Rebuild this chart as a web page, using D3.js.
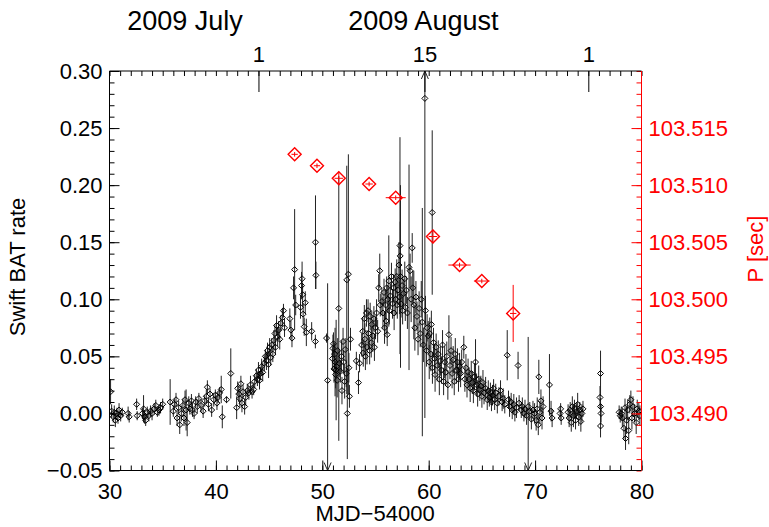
<!DOCTYPE html>
<html><head><meta charset="utf-8">
<script src="https://cdn.jsdelivr.net/npm/d3@7"></script>
<style>
html,body{margin:0;padding:0;background:#fff;}
svg{display:block;font-family:"Liberation Sans",Arial,Helvetica,sans-serif;}
</style></head><body>
<svg id="chart" width="769" height="527"></svg>
<script>
// Swift BAT light curve: [MJD-54000, count rate, 1-sigma error]
const batPoints = [
  [30.1,0.019,0.011],[30.2,0.002,0.006],[30.35,-0.003,0.005],[30.45,0.001,0.006],[30.55,-0.006,0.006],
  [30.7,0.0,0.005],[30.8,-0.004,0.005],[30.9,0.003,0.006],[31.05,-0.002,0.005],[31.2,0.001,0.004],
  [31.75,0.0,0.006],[31.85,-0.003,0.005],[32.55,0.008,0.005],[32.6,-0.002,0.004],
  [33.1,0.0,0.005],[33.2,0.004,0.012],[33.3,-0.003,0.006],[33.4,-0.006,0.005],[33.55,0.001,0.005],
  [33.7,-0.002,0.005],[33.85,0.002,0.005],[34.0,0.0,0.006],[34.2,0.004,0.005],[34.35,0.007,0.005],
  [34.5,0.001,0.004],[34.65,0.003,0.005],[34.8,0.005,0.005],[35.0,0.008,0.005],[35.7,0.01,0.02],
  [36.0,0.002,0.005],[36.1,0.008,0.005],[36.25,0.012,0.006],[36.35,-0.004,0.007],[36.5,0.005,0.006],
  [36.6,-0.01,0.008],[36.75,0.0,0.007],[36.9,0.007,0.006],[37.0,-0.004,0.007],[37.1,0.012,0.008],
  [37.2,0.003,0.018],[37.3,-0.008,0.012],[37.45,0.009,0.006],[37.55,0.004,0.005],[37.7,0.011,0.006],
  [37.8,0.003,0.006],[37.95,0.0,0.005],[38.1,0.01,0.005],[38.25,0.006,0.006],[38.4,0.013,0.005],
  [38.6,0.007,0.006],[38.8,0.002,0.006],[38.95,0.011,0.005],[39.1,0.015,0.006],[39.2,0.023,0.006],
  [39.3,0.008,0.006],[39.45,0.017,0.005],[39.6,0.003,0.006],[39.8,0.012,0.006],[39.95,0.016,0.005],
  [40.1,0.009,0.006],[40.2,0.014,0.005],[40.35,0.018,0.005],[40.5,0.021,0.012],[40.6,-0.003,0.01],
  [41.0,0.012,0.003],[41.4,0.035,0.022],
  [41.95,0.005,0.01],[42.05,0.022,0.006],[42.15,0.017,0.007],[42.25,0.013,0.008],[42.35,0.026,0.007],
  [42.45,0.009,0.008],[42.55,0.019,0.006],[42.7,0.006,0.007],[42.8,0.014,0.007],[42.95,0.02,0.006],
  [43.1,0.018,0.006],[43.25,0.025,0.008],[43.4,0.019,0.006],[43.55,0.021,0.005],[43.65,0.028,0.006],
  [43.8,0.033,0.006],[43.9,0.03,0.006],[44.0,0.038,0.007],[44.1,0.029,0.008],[44.2,0.035,0.006],
  [44.3,0.041,0.007],[44.4,0.036,0.008],[44.55,0.044,0.007],[44.65,0.05,0.006],[44.75,0.046,0.008],
  [44.85,0.055,0.007],[44.95,0.043,0.012],[45.05,0.058,0.008],[45.15,0.049,0.007],[45.25,0.06,0.006],
  [45.35,0.052,0.007],[45.45,0.064,0.009],[45.55,0.07,0.008],[45.6,0.058,0.007],[45.7,0.077,0.009],
  [45.8,0.067,0.008],[45.9,0.073,0.008],[46.0,0.065,0.009],[46.1,0.079,0.007],[46.25,0.084,0.008],
  [46.35,0.09,0.006],[46.45,0.075,0.008],[46.95,0.083,0.009],[47.05,0.073,0.008],[47.15,0.066,0.008],
  [47.3,0.11,0.01],[47.4,0.126,0.053],[47.5,0.095,0.009],[47.95,0.093,0.01],[48.05,0.112,0.012],
  [48.1,0.118,0.015],[48.15,0.104,0.01],[48.2,0.087,0.009],[48.3,0.076,0.008],[48.4,0.097,0.01],
  [48.5,0.071,0.012],[49.0,0.072,0.008],[49.36,0.15,0.041],[49.4,0.121,0.012],[49.35,0.063,0.006],
  [50.4,0.066,0.004],[50.5,0.029,0.085],
  [50.95,0.048,0.01],[51.0,0.057,0.012],[51.05,0.061,0.01],[51.1,0.039,0.012],[51.15,0.052,0.01],
  [51.2,0.045,0.03],[51.25,0.034,0.012],[51.3,0.038,0.044],[51.35,0.041,0.01],[51.4,0.029,0.015],
  [51.45,0.055,0.011],[51.55,0.092,0.116],[51.6,0.044,0.012],[51.7,0.037,0.01],[51.8,0.05,0.014],
  [51.85,0.02,0.012],[51.95,0.063,0.012],[52.0,0.045,0.01],[52.1,0.028,0.015],[52.15,0.056,0.01],
  [52.25,0.035,0.012],[52.3,0.117,0.1],[52.35,0.0,0.04],[52.45,0.122,0.105],[52.5,0.04,0.013],
  [52.55,0.015,0.01],[52.65,0.065,0.01],[53.2,0.046,0.008],[53.4,0.027,0.01],[53.5,0.044,0.008],
  [53.7,0.06,0.01],[53.8,0.072,0.012],[53.85,0.053,0.012],[53.95,0.083,0.012],[54.0,0.065,0.014],
  [54.05,0.05,0.012],[54.15,0.088,0.012],[54.2,0.058,0.015],[54.3,0.09,0.01],[54.35,0.07,0.014],
  [54.45,0.055,0.012],[54.5,0.085,0.012],[54.6,0.062,0.013],[54.65,0.078,0.012],[54.75,0.068,0.014],
  [54.85,0.083,0.011],[54.9,0.058,0.012],[55.0,0.075,0.01],[55.1,0.088,0.012],[55.2,0.072,0.01],
  [55.3,0.11,0.012],[55.4,0.125,0.015],[55.45,0.095,0.01],
  [55.6,0.098,0.012],[55.7,0.088,0.014],[55.8,0.106,0.012],[55.85,0.075,0.014],[55.95,0.095,0.013],
  [56.0,0.081,0.012],[56.05,0.11,0.01],[56.1,0.069,0.01],[56.15,0.1,0.012],[56.25,0.116,0.04],
  [56.3,0.09,0.012],[56.4,0.103,0.011],[56.5,0.12,0.012],[56.6,0.096,0.013],[56.7,0.11,0.012],
  [56.75,0.088,0.015],[56.85,0.115,0.012],[56.9,0.1,0.014],[57.0,0.12,0.015],[57.05,0.095,0.012],
  [57.1,0.108,0.012],[57.2,0.13,0.02],[57.25,0.102,0.015],[57.3,0.147,0.095],[57.32,0.138,0.03],
  [57.35,0.12,0.08],[57.4,0.096,0.012],[57.5,0.112,0.014],[57.55,0.09,0.012],[57.65,0.105,0.013],
  [57.75,0.118,0.015],[57.8,0.093,0.012],[57.9,0.108,0.012],[58.0,0.088,0.014],
  [58.15,0.128,0.09],[58.25,0.125,0.015],[58.35,0.1,0.02],[58.45,0.145,0.013],[58.5,0.11,0.015],
  [58.6,0.095,0.03],[58.7,0.075,0.02],[58.8,0.102,0.014],[58.9,0.085,0.013],[59.0,0.065,0.014],
  [59.1,0.092,0.015],[59.2,0.07,0.012],[59.3,0.1,0.016],[59.4,0.08,0.1],[59.5,0.06,0.015],
  [59.64,0.276,0.28],[59.7,0.09,0.013],[59.8,0.055,0.014],[59.85,0.075,0.012],[60.33,0.176,0.072],
  [59.95,0.068,0.013],[60.05,0.045,0.015],[60.1,0.07,0.014],[60.2,0.052,0.015],[60.25,0.078,0.012],
  [60.35,0.04,0.014],[60.45,0.062,0.013],[60.55,0.048,0.013],[60.6,0.034,0.015],[60.7,0.058,0.012],
  [60.8,0.042,0.014],[60.9,0.052,0.012],[61.0,0.03,0.014],[61.1,0.046,0.013],[61.2,0.038,0.012],
  [61.3,0.06,0.013],[61.4,0.028,0.012],[61.5,0.045,0.014],[61.6,0.036,0.012],[61.7,0.05,0.013],
  [61.8,0.025,0.013],[61.9,0.069,0.017],[62.0,0.042,0.012],
  [62.1,0.055,0.012],[62.2,0.035,0.013],[62.3,0.047,0.012],[62.4,0.028,0.012],[62.5,0.052,0.014],
  [62.6,0.038,0.012],[62.7,0.045,0.012],[62.8,0.03,0.011],[62.9,0.041,0.012],[63.0,0.035,0.012],
  [63.1,0.045,0.011],[63.3,0.058,0.01],[63.4,0.03,0.011],[63.5,0.04,0.012],[63.6,0.025,0.011],
  [63.7,0.036,0.012],[63.8,0.03,0.01],[63.9,0.022,0.012],[64.0,0.035,0.011],[64.1,0.027,0.01],
  [64.2,0.02,0.011],[64.3,0.032,0.012],[64.4,0.045,0.02],[64.5,0.025,0.01],[64.6,0.017,0.011],
  [64.7,0.03,0.012],[64.8,0.021,0.01],[64.9,0.024,0.009],[65.0,0.015,0.01],[65.1,0.027,0.011],
  [65.2,0.018,0.01],[65.35,0.022,0.01],[65.5,0.012,0.009],[65.6,0.02,0.009],[65.7,0.014,0.008],
  [65.8,0.018,0.009],[65.9,0.01,0.008],[66.0,0.016,0.009],[66.1,0.022,0.008],[66.2,0.012,0.009],
  [66.3,0.018,0.008],[66.45,0.009,0.009],[66.6,0.015,0.008],[66.75,0.02,0.009],[66.9,0.01,0.008],
  [67.0,0.013,0.009],[67.15,0.008,0.008],[67.38,0.051,0.022],[67.5,0.012,0.008],[67.6,0.006,0.009],
  [67.75,0.01,0.008],[67.85,0.003,0.008],[68.0,0.008,0.009],[68.1,0.001,0.008],[68.25,0.005,0.009],
  [68.4,0.042,0.012],[68.5,0.009,0.007],
  [68.7,0.003,0.007],[68.8,0.006,0.008],[68.95,0.0,0.007],[69.05,0.004,0.008],[69.2,-0.002,0.008],
  [69.35,0.006,0.061],[69.5,0.002,0.008],[69.65,-0.005,0.009],[69.8,0.003,0.008],[69.95,0.0,0.009],
  [70.1,-0.006,0.009],[70.2,0.004,0.01],[70.3,-0.01,0.009],[70.35,0.032,0.015],[70.45,0.001,0.01],
  [70.55,0.011,0.01],[70.65,-0.004,0.01],[70.75,0.006,0.009],[71.35,0.025,0.027],[71.5,0.002,0.009],
  [71.6,-0.004,0.008],[72.35,0.0,0.006],[72.45,-0.004,0.006],[72.4,0.004,0.005],
  [73.1,0.001,0.007],[73.2,-0.004,0.008],[73.3,0.003,0.007],[73.4,-0.008,0.008],[73.5,0.006,0.009],
  [73.6,-0.002,0.01],[73.7,0.004,0.008],[73.8,-0.006,0.008],[73.9,0.002,0.007],[74.0,0.008,0.01],
  [74.1,-0.003,0.008],[74.2,0.003,0.007],[74.3,-0.007,0.009],[74.4,0.0,0.008],[74.5,0.004,0.007],
  [76.15,0.035,0.02],[76.1,0.014,0.01],[76.15,0.006,0.008],[76.2,0.0,0.008],[76.15,-0.011,0.01],
  [77.9,0.001,0.006],[78.0,-0.002,0.006],[78.1,0.0,0.006],[78.2,-0.004,0.008],[78.35,-0.013,0.01],
  [78.45,0.005,0.008],[78.5,-0.022,0.01],[78.6,-0.006,0.012],[78.7,0.003,0.009],[78.8,-0.015,0.012],
  [78.9,0.008,0.008],[79.0,0.012,0.008],[79.1,-0.004,0.01],[79.2,0.006,0.009],[79.35,0.0,0.008],
  [79.5,-0.008,0.01],[79.6,0.004,0.008],[79.75,0.002,0.008],[79.85,-0.002,0.009]
];

// Pulse period measurements
const periodMjd    = [47.4, 49.5, 51.55, 54.4, 56.9, 60.4, 62.9, 64.99, 67.94];
const periodMjdErr = [0.3, 0.3, 0.4, 0.35, 0.94, 0.4, 1.05, 0.74, 0.3];
const periodSec    = [103.5127, 103.5117, 103.5106, 103.5101, 103.5089, 103.5055, 103.5030, 103.5016, 103.49876];
const periodSecErr = [0.0002, 0.0002, 0.0006, 0.0002, 0.0002, 0.0006, 0.0002, 0.0002, 0.0025];

// Axis ticks
const mjdMajorTicks = [30, 40, 50, 60, 70, 80];
const rateMajorTicks = [-0.05, 0.00, 0.05, 0.10, 0.15, 0.20, 0.25, 0.30];
const periodMajorTicks = [103.490, 103.495, 103.500, 103.505, 103.510, 103.515];
const dateTickMjd = [44, 59.6, 75];
const dateTickLabels = ["1", "15", "1"];
const monthLabelMjd = [37.1, 59.5];
const monthLabels = ["2009 July", "2009 August"];

const svg = d3.select("#chart");
const L = 109.5, R = 641.5, T = 71, B = 470.5;

const x = d3.scaleLinear().domain([30, 80]).range([L, R]);
const y = d3.scaleLinear().domain([-0.05, 0.30]).range([B, T]);
const yP = d3.scaleLinear().domain([103.485, 103.520]).range([B, T]);

const FS = 22;
const minus = s => s.replace("-", "\u2212");

// clip region for the data
svg.append("defs").append("clipPath").attr("id", "plotClip")
  .append("rect").attr("x", L).attr("y", T).attr("width", R - L).attr("height", B - T);

// ---- light curve ----
const lc = svg.append("g").attr("clip-path", "url(#plotClip)");
const [ymin, ymax] = y.domain();
lc.selectAll("line.err").data(batPoints).join("line")
  .attr("class", "err")
  .attr("x1", d => x(d[0])).attr("x2", d => x(d[0]))
  .attr("y1", d => y(Math.max(d[1] - d[2], ymin - 0.01)))
  .attr("y2", d => y(Math.min(d[1] + d[2], ymax + 0.01)))
  .attr("stroke", "#222").attr("stroke-width", 1);

// arrows for error bars that leave the plotting range
batPoints.filter(d => d[1] - d[2] < ymin || d[1] + d[2] > ymax).forEach(d => {
  const cx = x(d[0]);
  if (d[1] - d[2] < ymin) {
    lc.append("path").attr("d", `M${cx - 3.5},${B - 8}L${cx},${B}L${cx + 3.5},${B - 8}`)
      .attr("fill", "none").attr("stroke", "#222").attr("stroke-width", 1);
  }
  if (d[1] + d[2] > ymax) {
    lc.append("path").attr("d", `M${cx - 3.5},${T + 8}L${cx},${T}L${cx + 3.5},${T + 8}`)
      .attr("fill", "none").attr("stroke", "#222").attr("stroke-width", 1);
  }
});

const ds = 3;
lc.selectAll("path.pt").data(batPoints).join("path")
  .attr("class", "pt")
  .attr("d", d => {
    const cx = x(d[0]), cy = y(d[1]);
    return `M${cx},${cy - ds}L${cx + ds},${cy}L${cx},${cy + ds}L${cx - ds},${cy}Z`;
  })
  .attr("fill", "none").attr("stroke", "#000").attr("stroke-width", 1);

// ---- pulse period ----
const pg = svg.append("g").attr("clip-path", "url(#plotClip)");
const pData = periodMjd.map((m, i) => ({ m, me: periodMjdErr[i], p: periodSec[i], pe: periodSecErr[i] }));
pg.selectAll("line.hx").data(pData).join("line")
  .attr("x1", d => x(d.m - d.me)).attr("x2", d => x(d.m + d.me))
  .attr("y1", d => yP(d.p)).attr("y2", d => yP(d.p))
  .attr("stroke", "#f00").attr("stroke-width", 1);
pg.selectAll("line.vy").data(pData).join("line")
  .attr("x1", d => x(d.m)).attr("x2", d => x(d.m))
  .attr("y1", d => yP(d.p - d.pe)).attr("y2", d => yP(d.p + d.pe))
  .attr("stroke", "#f00").attr("stroke-width", 1);
const dp = 6.5;
pg.selectAll("path.pd").data(pData).join("path")
  .attr("d", d => {
    const cx = x(d.m), cy = yP(d.p);
    return `M${cx},${cy - dp}L${cx + dp},${cy}L${cx},${cy + dp}L${cx - dp},${cy}Z`;
  })
  .attr("fill", "none").attr("stroke", "#f00").attr("stroke-width", 1.4);

// ---- axes ----
function styleAxis(g, color) {
  g.select(".domain").remove();
  g.selectAll("line").attr("stroke", color).attr("stroke-width", 1);
  g.selectAll("text").attr("fill", color).style("font-size", FS + "px")
    .style("font-family", '"Liberation Sans", Arial, sans-serif');
}

// bottom
svg.append("g").attr("transform", `translate(0,${B})`)
  .call(d3.axisBottom(x).tickValues(d3.range(30, 81, 1)).tickSize(-5).tickFormat(""))
  .call(g => styleAxis(g, "#000"));
svg.append("g").attr("transform", `translate(0,${B})`)
  .call(d3.axisBottom(x).tickValues(mjdMajorTicks).tickSize(-10).tickPadding(13).tickFormat(d3.format("d")))
  .call(g => styleAxis(g, "#000"));

// top (calendar dates)
svg.append("g").attr("transform", `translate(0,${T})`)
  .call(d3.axisTop(x).tickValues(d3.range(30, 81, 1)).tickSize(-5).tickFormat(""))
  .call(g => styleAxis(g, "#000"));
svg.append("g").attr("transform", `translate(0,${T})`)
  .call(d3.axisTop(x).tickValues(dateTickMjd).tickSize(-21).tickPadding(9)
    .tickFormat((d, i) => dateTickLabels[i]))
  .call(g => styleAxis(g, "#000"))
  .call(g => g.selectAll(".tick text").attr("y", -9.5));
svg.append("g").selectAll("text").data(monthLabels).join("text")
  .attr("x", (d, i) => x(monthLabelMjd[i])).attr("y", 30)
  .attr("text-anchor", "middle").style("font-size", "27px").text(d => d);

// left
svg.append("g").attr("transform", `translate(${L},0)`)
  .call(d3.axisLeft(y).tickValues(d3.range(-5, 31, 1).map(v => v / 100)).tickSize(-5).tickFormat(""))
  .call(g => styleAxis(g, "#000"));
svg.append("g").attr("transform", `translate(${L},0)`)
  .call(d3.axisLeft(y).tickValues(rateMajorTicks).tickSize(-10).tickPadding(7)
    .tickFormat(d => minus(d3.format(".2f")(d))))
  .call(g => styleAxis(g, "#000"));

// right (pulse period, red)
svg.append("g").attr("transform", `translate(${R},0)`)
  .call(d3.axisRight(yP).tickValues(d3.range(103485, 103521, 1).map(v => v / 1000)).tickSize(-5).tickFormat(""))
  .call(g => styleAxis(g, "#f00"));
svg.append("g").attr("transform", `translate(${R},0)`)
  .call(d3.axisRight(yP).tickValues(periodMajorTicks).tickSize(-10).tickPadding(7).tickFormat(d3.format(".3f")))
  .call(g => styleAxis(g, "#f00"));

// frame
svg.append("path").attr("d", `M${R},${T}L${L},${T}L${L},${B}L${R},${B}`)
  .attr("fill", "none").attr("stroke", "#000").attr("stroke-width", 1);
svg.append("line").attr("x1", R).attr("x2", R).attr("y1", T).attr("y2", B)
  .attr("stroke", "#f00").attr("stroke-width", 1);

// titles
svg.append("text").attr("x", (L + R) / 2 - 0.5).attr("y", 521).attr("text-anchor", "middle")
  .style("font-size", FS + "px").text("MJD\u221254000");
svg.append("text").attr("transform", "translate(25,267) rotate(-90)").attr("text-anchor", "middle")
  .style("font-size", FS + "px").text("Swift BAT rate");
svg.append("text").attr("transform", "translate(763,249) rotate(-90)").attr("text-anchor", "middle")
  .attr("fill", "#f00").style("font-size", FS + "px").text("P [sec]");
</script>
</body></html>
